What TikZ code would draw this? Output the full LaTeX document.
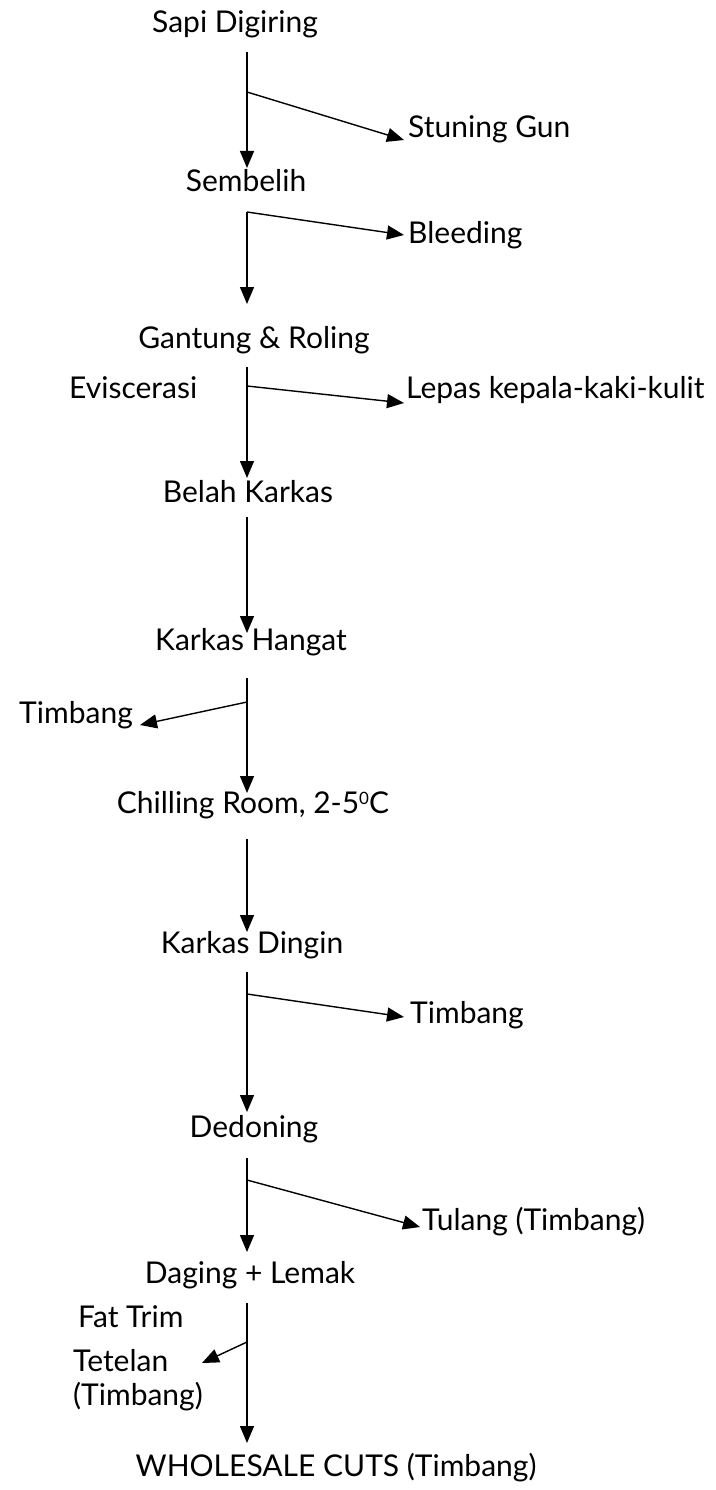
\documentclass[tikz,border=0pt]{standalone}
\usepackage{fontspec}
\setmainfont{Lato}
\usetikzlibrary{arrows.meta}
\newcommand{\degsup}{\raisebox{0.55ex}{\fontsize{17}{17}\selectfont 0}}
\begin{document}
\begin{tikzpicture}[x=1pt,y=-1pt,
  lbl/.style={inner sep=0pt,font=\fontsize{30}{36}\selectfont},
  flow/.style={line width=1.4pt,-{Triangle[length=17pt,width=14pt]}},
  stem/.style={line width=1.4pt}]
\useasboundingbox (0,0) rectangle (715,1490);

% process steps (centred)
\node[lbl,anchor=base] (n1) at (235,33) {Sapi Digiring};
\node[lbl,anchor=base] (n2) at (246,192) {Sembelih};
\node[lbl,anchor=base] (n3) at (254,348) {Gantung \& Roling};
\node[lbl,anchor=base] (n4) at (248,502) {Belah Karkas};
\node[lbl,anchor=base] (n5) at (251,650) {Karkas Hangat};
\node[lbl,anchor=base] (n6) at (253,813) {Chilling Room, 2-5\degsup C};
\node[lbl,anchor=base] (n7) at (252,953) {Karkas Dingin};
\node[lbl,anchor=base] (n8) at (254,1137) {Dedoning};
\node[lbl,anchor=base] (n9) at (250,1283) {Daging + Lemak};
\node[lbl,anchor=base] (n10) at (336,1476) {WHOLESALE CUTS (Timbang)};

% side outputs
\node[lbl,anchor=base west] (b1) at (408,138) {Stuning Gun};
\node[lbl,anchor=base west] (b2) at (408,243) {Bleeding};
\node[lbl,anchor=base west] (ev) at (69,398) {Eviscerasi};
\node[lbl,anchor=base west] (b3) at (406,398) {Lepas kepala-kaki-kulit};
\node[lbl,anchor=base east] (b4) at (133,723) {Timbang};
\node[lbl,anchor=base west] (b5) at (410,1023) {Timbang};
\node[lbl,anchor=base west] (b6) at (422,1230) {Tulang (Timbang)};
\node[lbl,anchor=base west] (ft) at (78,1327) {Fat Trim};
\node[lbl,anchor=base west] (b7) at (73,1371) {Tetelan};
\node[lbl,anchor=base west] (b7b) at (73,1405) {(Timbang)};

% points on the main line
\coordinate (s1) at (247,52);   \coordinate (e1) at (247,168);  \coordinate (j1) at (247,92);
\coordinate (s2) at (247,212);  \coordinate (e2) at (247,304);
\coordinate (s3) at (247,367);  \coordinate (e3) at (247,478);  \coordinate (j3) at (247,386);
\coordinate (s4) at (247,517);  \coordinate (e4) at (247,633);
\coordinate (s5) at (247,678);  \coordinate (e5) at (247,793);  \coordinate (j5) at (247,702);
\coordinate (s6) at (247,839);  \coordinate (e6) at (247,932);
\coordinate (s7) at (247,972);  \coordinate (e7) at (247,1112); \coordinate (j7) at (247,994);
\coordinate (s8) at (247,1158); \coordinate (e8) at (247,1252); \coordinate (j8) at (247,1180);
\coordinate (s9) at (247,1303); \coordinate (e9) at (247,1443); \coordinate (j9) at (247,1342);

% arrow tips of the branches
\coordinate (t1) at (404,140);
\coordinate (t2) at (404,235);
\coordinate (t3) at (404,403);
\coordinate (t5) at (140,725);
\coordinate (t7) at (404,1017);
\coordinate (t8) at (420,1227);
\coordinate (t9) at (202,1363);

% main flow
\draw[flow] (s1) -- (e1);
\draw[flow] (s2) -- (e2);
\draw[flow] (s3) -- (e3);
\draw[flow] (s4) -- (e4);
\draw[stem] (s5) -- (j5);
\draw[flow] (j5) -- (e5);
\draw[flow] (s6) -- (e6);
\draw[flow] (s7) -- (e7);
\draw[flow] (s8) -- (e8);
\draw[flow] (s9) -- (e9);

% branches
\draw[flow] (j1) -- (t1);
\draw[flow] (s2) -- (t2);
\draw[flow] (j3) -- (t3);
\draw[flow] (j5) -- (t5);
\draw[flow] (j7) -- (t7);
\draw[flow] (j8) -- (t8);
\draw[flow] (j9) -- (t9);
\end{tikzpicture}
\end{document}
